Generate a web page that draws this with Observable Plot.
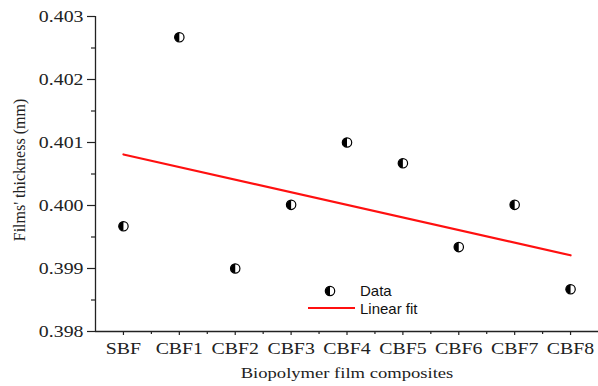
<!DOCTYPE html>
<html><head><meta charset="utf-8">
<script src="https://cdn.jsdelivr.net/npm/d3@7"></script>
<script src="https://cdn.jsdelivr.net/npm/@observablehq/plot@0.6"></script>
<style>
body{margin:0;background:#fff;}
#wrap{position:relative;width:598px;height:386px;}
.lg{position:absolute;font-family:"Liberation Sans",Arial,sans-serif;font-size:15px;color:#111;line-height:1;}
</style></head><body><div id="wrap"></div>
<script>
const categories = ["SBF","CBF1","CBF2","CBF3","CBF4","CBF5","CBF6","CBF7","CBF8"];
const thickness = [0.39967, 0.40267, 0.39900, 0.40001, 0.40100, 0.40067, 0.39934, 0.40001, 0.39867];
const fitIndex = [0, 8];
const fitThickness = [0.40081, 0.39921];
const yTicks = [0.398, 0.399, 0.400, 0.401, 0.402, 0.403];
const yMinorTicks = [0.3985, 0.3995, 0.4005, 0.4015, 0.4025];
const legendLabels = ["Data", "Linear fit"];
const xTitle = "Biopolymer film composites";
const yTitle = "Films' thickness (mm)";

const data = categories.map((c, i) => ({i, c, v: thickness[i]}));
const fit = fitIndex.map((i, k) => ({i, v: fitThickness[k]}));
const leftHalf = {draw(ctx, size){const r = Math.sqrt(size/Math.PI); ctx.moveTo(0,-r); ctx.arc(0,0,r,-Math.PI/2,Math.PI/2,true); ctx.closePath();}};
const axisColor = "#222";
const serif = "'Liberation Serif', 'Times New Roman', serif";

const chart = Plot.plot({
  width: 598, height: 386,
  marginLeft: 95, marginRight: 0, marginTop: 16, marginBottom: 55,
  style: {fontFamily: serif, fontSize: "16px", color: axisColor, background: "white"},
  x: {domain: [-0.5, 8.5]},
  y: {domain: [0.398, 0.403]},
  marks: [
    Plot.axisY(yTicks, {tickSize: 8, tickPadding: 4, tickFormat: d3.format(".3f"), fontSize: 16, fontFamily: serif, label: null, strokeWidth: 1.2}),
    Plot.axisY(yMinorTicks, {tickSize: 4, tickFormat: () => "", label: null, strokeWidth: 1.2}),
    Plot.axisX(d3.range(categories.length), {tickSize: 4, tickPadding: 7, tickFormat: i => categories[i], fontSize: 16, fontFamily: serif, label: null, strokeWidth: 1.2}),
    Plot.axisX(d3.range(0.5, categories.length - 1, 1), {tickSize: 3, tickFormat: () => "", label: null, strokeWidth: 1.2}),
    Plot.ruleX([-0.5], {stroke: axisColor, strokeWidth: 1.3}),
    Plot.ruleY([0.398], {stroke: axisColor, strokeWidth: 1.3}),
    Plot.text([xTitle], {frameAnchor: "bottom", textAnchor: "middle", lineAnchor: "middle", dy: 42, fontSize: 15, fontFamily: serif, fill: axisColor}),
    Plot.text([yTitle], {frameAnchor: "left", textAnchor: "middle", lineAnchor: "middle", rotate: -90, dx: -76, dy: -4, fontSize: 16, fontFamily: serif, fill: axisColor}),
    Plot.line(fit, {x: "i", y: "v", stroke: "#ff1010", strokeWidth: 2.2}),
    Plot.dot(data, {x: "i", y: "v", r: 4.7, fill: "white", stroke: "black", strokeWidth: 1.2}),
    Plot.dot(data, {x: "i", y: "v", r: 4.7, symbol: leftHalf, fill: "black"})
  ]
});
const wrap = document.getElementById("wrap");
wrap.appendChild(chart);

// serif for all axis text, and the horizontal stretch seen in the reference
const sx = 1.24;
chart.querySelectorAll("text").forEach(t => {
  t.style.fontFamily = serif;
  if (t.getAttribute("transform") && t.getAttribute("transform").includes("rotate")) return;
  if (!t.textContent) return;
  const x = +t.getAttribute("x") || 0, y = +t.getAttribute("y") || 0;
  const tr = t.getAttribute("transform") || "";
  t.setAttribute("transform", `${tr} translate(${x},${y}) scale(${sx},1) translate(${-x},${-y})`);
});

// legend
const mk = document.createElement("div");
mk.className = "lg";
mk.style.left = "323px"; mk.style.top = "284px";
mk.innerHTML = '<svg width="14" height="14" viewBox="-7 -7 14 14"><circle r="4.7" fill="white" stroke="black" stroke-width="1.2"/><path d="M0,-4.7A4.7,4.7 0 0 0 0,4.7Z" fill="black"/></svg>';
wrap.appendChild(mk);
const t1 = document.createElement("div");
t1.className = "lg"; t1.textContent = legendLabels[0];
t1.style.left = "360px"; t1.style.top = "283px";
wrap.appendChild(t1);
const ln = document.createElement("div");
ln.className = "lg";
ln.style.left = "308px"; ln.style.top = "307px"; ln.style.width = "47px"; ln.style.height = "2px"; ln.style.background = "#ff1010";
wrap.appendChild(ln);
const t2 = document.createElement("div");
t2.className = "lg"; t2.textContent = legendLabels[1];
t2.style.left = "360px"; t2.style.top = "301px";
wrap.appendChild(t2);
</script></body></html>
